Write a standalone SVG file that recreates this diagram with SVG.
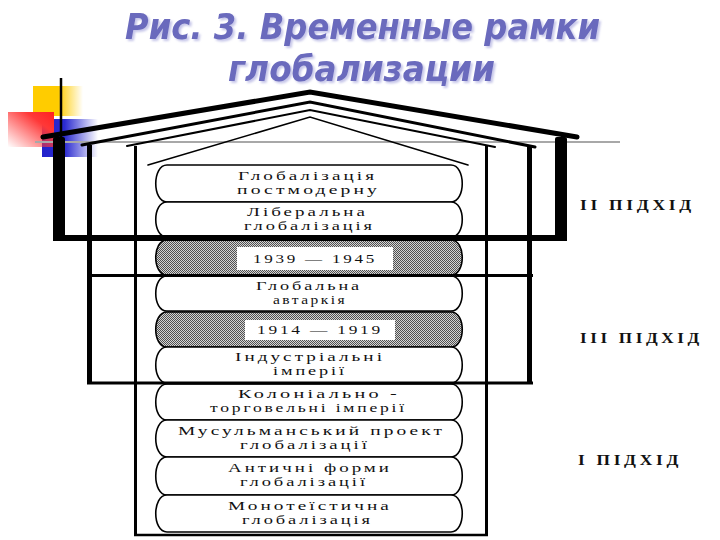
<svg xmlns="http://www.w3.org/2000/svg" width="720" height="540" viewBox="0 0 720 540">
<defs>
<style>
.t{font-family:"DejaVu Sans","Liberation Sans",sans-serif;font-weight:bold;font-style:italic;font-size:36px;fill:#6a6abd}
.box{fill:#fff;stroke:#000;stroke-width:1.6}
.gbox{fill:url(#dither);stroke:#000;stroke-width:1.6}
.lbl{font-family:"Liberation Serif","Times New Roman",serif;font-size:12.5px;letter-spacing:2px;fill:#111}
.side{font-family:"Liberation Serif","Times New Roman",serif;font-weight:bold;font-size:14px;letter-spacing:3px;fill:#111}
.roof{fill:none;stroke:#000;stroke-linejoin:miter;stroke-linecap:round}
.fr{fill:none;stroke:#000}
</style>
<filter id="sh" x="-5%" y="-10%" width="110%" height="130%">
<feDropShadow dx="2" dy="2" stdDeviation="1" flood-color="#b8b8e4" flood-opacity="0.8"/>
</filter>
<pattern id="dither" width="2" height="2" patternUnits="userSpaceOnUse">
<rect width="2" height="2" fill="#d4d4d4"/>
<rect width="1" height="1" fill="#505050"/>
<rect x="1" y="1" width="1" height="1" fill="#505050"/>
</pattern>
<linearGradient id="gy" x1="0" y1="0" x2="1" y2="0">
<stop offset="0" stop-color="#ffcc00"/><stop offset="0.5" stop-color="#ffcc00"/><stop offset="1" stop-color="#ffcc00" stop-opacity="0"/>
</linearGradient>
<linearGradient id="gr" x1="1" y1="0" x2="0" y2="1">
<stop offset="0" stop-color="#ff2020"/><stop offset="0.3" stop-color="#ff3838"/><stop offset="1" stop-color="#ff3838" stop-opacity="0"/>
</linearGradient>
<linearGradient id="gb" x1="0" y1="0" x2="1" y2="0">
<stop offset="0" stop-color="#2222cc"/><stop offset="0.4" stop-color="#2a2ad0"/><stop offset="1" stop-color="#2a2ad0" stop-opacity="0"/>
</linearGradient>
</defs>
<rect width="720" height="540" fill="#fff"/>

<g id="title" filter="url(#sh)">
<text class="t"><tspan x="125" y="39" textLength="475" lengthAdjust="spacingAndGlyphs">Рис. 3. Временные рамки</tspan><tspan x="228" y="81" textLength="267" lengthAdjust="spacingAndGlyphs">глобализации</tspan></text>
</g>

<g id="decor">
<rect x="33" y="86" width="50" height="30" fill="url(#gy)"/>
<rect x="42" y="119" width="56" height="38" fill="url(#gb)"/>
<rect x="8" y="112" width="46" height="35" fill="url(#gr)"/>
<line x1="35" y1="142" x2="620" y2="142" stroke="#a8a8a8" stroke-width="2"/>
<line x1="61" y1="78" x2="61" y2="140" stroke="#000" stroke-width="2.5"/>
</g>

<g id="frames">
<polyline class="roof" points="43,137 310,92 577,137" stroke-width="5"/>
<rect x="53" y="137" width="12" height="104" rx="2"/>
<rect x="555" y="137" width="12" height="104" rx="2"/>
<polyline class="roof" points="82,145 310,102 535,147" stroke-width="3"/>
<line class="fr" x1="89.5" y1="145" x2="89.5" y2="384" stroke-width="5"/>
<line class="fr" x1="529.5" y1="147" x2="529.5" y2="384" stroke-width="5"/>
<polyline class="roof" points="127,146 310,110 495,147" stroke-width="2"/>
<line class="fr" x1="135.5" y1="146" x2="135.5" y2="536" stroke-width="3"/>
<line class="fr" x1="486.5" y1="146" x2="486.5" y2="536" stroke-width="3"/>
<line class="fr" x1="134" y1="535" x2="488" y2="535" stroke-width="2.5"/>
<polyline class="roof" points="148,165 310,117 468,165" stroke-width="1.6"/>
</g>

<g id="n1"><path class="box" d="M167,165 H451 C466,165 466,202 451,202 H167 C152,202 152,165 167,165 Z"/>
<text class="lbl" x="238" y="180" textLength="139" lengthAdjust="spacingAndGlyphs">Глобалізація</text>
<text class="lbl" x="237" y="194" textLength="143" lengthAdjust="spacingAndGlyphs">постмодерну</text></g>
<g id="n2"><path class="box" d="M167,202 H451 C466,202 466,237 451,237 H167 C152,237 152,202 167,202 Z"/>
<text class="lbl" x="247" y="216" textLength="121" lengthAdjust="spacingAndGlyphs">Ліберальна</text>
<text class="lbl" x="244" y="230" textLength="131" lengthAdjust="spacingAndGlyphs">глобалізація</text></g>
<g id="n3"><path class="gbox" d="M167,240 H451 C466,240 466,275 451,275 H167 C152,275 152,240 167,240 Z"/>
<rect x="237" y="247" width="156" height="23" fill="#fff"/>
<text class="lbl" x="253" y="263" textLength="124" lengthAdjust="spacingAndGlyphs">1939 — 1945</text></g>
<g id="n4"><path class="box" d="M167,276 H451 C466,276 466,311 451,311 H167 C152,311 152,276 167,276 Z"/>
<text class="lbl" x="256" y="290" textLength="106" lengthAdjust="spacingAndGlyphs">Глобальна</text>
<text class="lbl" x="273" y="304" textLength="74" lengthAdjust="spacingAndGlyphs">автаркія</text></g>
<g id="n5"><path class="gbox" d="M167,312 H451 C466,312 466,347 451,347 H167 C152,347 152,312 167,312 Z"/>
<rect x="245" y="320" width="150" height="20" fill="#fff"/>
<text class="lbl" x="257" y="334" textLength="126" lengthAdjust="spacingAndGlyphs">1914 — 1919</text></g>
<g id="n6"><path class="box" d="M167,347 H451 C466,347 466,383 451,383 H167 C152,383 152,347 167,347 Z"/>
<text class="lbl" x="235" y="361" textLength="150" lengthAdjust="spacingAndGlyphs">Індустріальні</text>
<text class="lbl" x="273" y="375" textLength="74" lengthAdjust="spacingAndGlyphs">імперії</text></g>
<g id="n7"><path class="box" d="M167,384 H451 C466,384 466,420 451,420 H167 C152,420 152,384 167,384 Z"/>
<text class="lbl" x="238" y="398" textLength="162" lengthAdjust="spacingAndGlyphs">Колоніально -</text>
<text class="lbl" x="210" y="412" textLength="197" lengthAdjust="spacingAndGlyphs">торговельні імперії</text></g>
<g id="n8"><path class="box" d="M167,420 H451 C466,420 466,457 451,457 H167 C152,457 152,420 167,420 Z"/>
<text class="lbl" x="178" y="435" textLength="267" lengthAdjust="spacingAndGlyphs">Мусульманський проект</text>
<text class="lbl" x="240" y="449" textLength="130" lengthAdjust="spacingAndGlyphs">глобалізації</text></g>
<g id="n9"><path class="box" d="M167,457 H451 C466,457 466,495 451,495 H167 C152,495 152,457 167,457 Z"/>
<text class="lbl" x="228" y="472" textLength="164" lengthAdjust="spacingAndGlyphs">Античні форми</text>
<text class="lbl" x="240" y="486" textLength="128" lengthAdjust="spacingAndGlyphs">глобалізації</text></g>
<g id="n10"><path class="box" d="M167,495 H451 C466,495 466,532 451,532 H167 C152,532 152,495 167,495 Z"/>
<text class="lbl" x="228" y="510" textLength="164" lengthAdjust="spacingAndGlyphs">Монотеїстична</text>
<text class="lbl" x="242" y="524" textLength="131" lengthAdjust="spacingAndGlyphs">глобалізація</text></g>

<g id="frame-lines">
<line class="fr" x1="87" y1="275.5" x2="533" y2="275.5" stroke-width="3"/>
<line class="fr" x1="87" y1="383" x2="533" y2="383" stroke-width="3"/>
<line x1="53" y1="238" x2="567" y2="238" stroke="#000" stroke-width="6"/>
</g>

<g id="labels">
<text class="side" x="580" y="210" textLength="115" lengthAdjust="spacingAndGlyphs">II ПІДХІД</text>
<text class="side" x="580" y="343" textLength="123" lengthAdjust="spacingAndGlyphs">III ПІДХІД</text>
<text class="side" x="578" y="465" textLength="104" lengthAdjust="spacingAndGlyphs">I ПІДХІД</text>
</g>
</svg>
